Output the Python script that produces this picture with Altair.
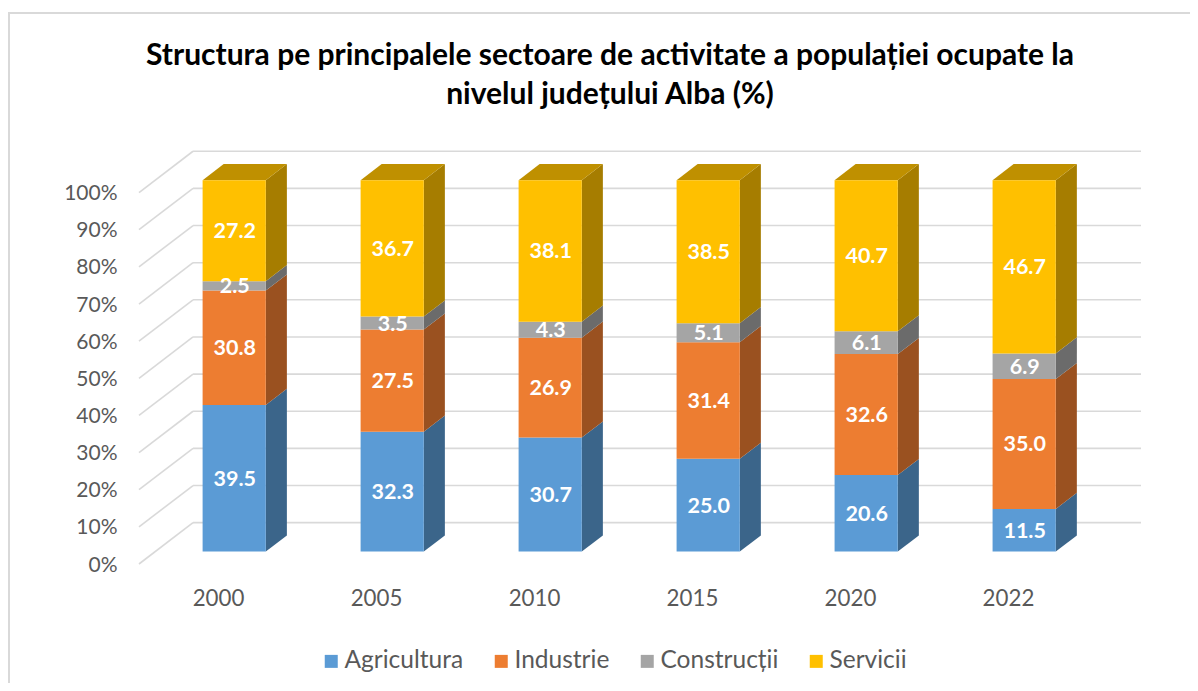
import altair as alt
import pandas as pd

years = ["2000", "2005", "2010", "2015", "2020", "2022"]
sectors = ["Agricultura", "Industrie", "Construcții", "Servicii"]
agricultura = [39.5, 32.3, 30.7, 25.0, 20.6, 11.5]
industrie = [30.8, 27.5, 26.9, 31.4, 32.6, 35.0]
constructii = [2.5, 3.5, 4.3, 5.1, 6.1, 6.9]
servicii = [27.2, 36.7, 38.1, 38.5, 40.7, 46.7]
series = [agricultura, industrie, constructii, servicii]
colors = ["#5B9BD5", "#ED7D31", "#A5A5A5", "#FFC000"]
side_colors = ["#3B658A", "#9A5120", "#6B6B6B", "#A67D00"]
top_color = "#BF9000"
title_lines = ["Structura pe principalele sectoare de activitate a populației ocupate la",
               "nivelul județului Alba (%)"]
pct_ticks = list(range(0, 101, 10))

FONT = "Lato"
TXT = "#595959"
GRID = "#D9D9D9"
W, H = 1002, 413
# oblique projection of the chart box (x in category units, y in percent)
DX, DY = 0.342, 11.13
D0, D1 = 0.30, 0.69
HALF = 0.2
Y_MAX = 111.2

grid_rows = []
for i, p in enumerate(pct_ticks):
    grid_rows.append(dict(g=f"f{i}", x=-0.5, y=p))
    grid_rows.append(dict(g=f"f{i}", x=-0.5 + DX, y=p + DY))
    grid_rows.append(dict(g=f"b{i}", x=-0.5 + DX, y=p + DY))
    grid_rows.append(dict(g=f"b{i}", x=5.5 + DX, y=p + DY))
grid_df = pd.DataFrame(grid_rows)

fronts, sides, tops, labels = [], [], [], []
for c, yr in enumerate(years):
    vals = [s[c] for s in series]
    total = sum(vals)
    base = 0.0
    cx = c + D0 * DX
    y0 = D0 * DY
    back_x = (D1 - D0) * DX
    back_y = (D1 - D0) * DY
    for k, v in enumerate(vals):
        lo = base / total * 100
        hi = (base + v) / total * 100
        base += v
        fronts.append(dict(year=yr, sector=sectors[k], x=cx - HALF, x2=cx + HALF, y=lo + y0, y2=hi + y0))
        labels.append(dict(x=cx, y=(lo + hi) / 2 + y0, t=f"{v:.1f}"))
        key = f"{c}-{k}"
        sides.append(dict(f=key, c=side_colors[k], x=cx + HALF, y=lo + y0, y2=hi + y0))
        sides.append(dict(f=key, c=side_colors[k], x=cx + HALF + back_x, y=lo + y0 + back_y, y2=hi + y0 + back_y))
    t = 100 + y0
    xl, xr = cx - HALF, cx + HALF
    tops.append(dict(f=f"{c}", x=xl, y=t, y2=t))
    tops.append(dict(f=f"{c}", x=xl + back_x, y=t, y2=t + back_y))
    tops.append(dict(f=f"{c}", x=xr, y=t, y2=t + back_y))
    tops.append(dict(f=f"{c}", x=xr + back_x, y=t + back_y, y2=t + back_y))

X = alt.Scale(domain=[-0.5, 5.5 + DX], nice=False, zero=False)
Y = alt.Scale(domain=[0, Y_MAX], nice=False, zero=False)
x_axis = alt.Axis(values=list(range(len(years))),
                  labelExpr="['2000','2005','2010','2015','2020','2022'][datum.value]",
                  domain=False, ticks=False, grid=False, title=None, labelPadding=23,
                  labelFont=FONT, labelFontSize=22.3, labelColor=TXT, labelFlush=False, labelOverlap=False)
y_axis = alt.Axis(values=pct_ticks, labelExpr="datum.value + '%'", domain=False, ticks=False,
                  grid=False, title=None, labelPadding=22, labelFont=FONT, labelFontSize=21,
                  labelColor=TXT, labelOverlap=False, labelOffset=1)

one = pd.DataFrame({"a": [0]})
frame_left = alt.Chart(one).mark_rule(color=GRID, strokeWidth=2).encode(
    x=alt.value(-130), y=alt.value(-139), y2=alt.value(540))
frame_top = alt.Chart(one).mark_rule(color=GRID, strokeWidth=2).encode(
    x=alt.value(-131), x2=alt.value(1059), y=alt.value(-138))

grid = alt.Chart(grid_df).mark_line(color=GRID, strokeWidth=1.6, clip=False).encode(
    x=alt.X("x:Q", scale=X, axis=x_axis),
    y=alt.Y("y:Q", scale=Y, axis=y_axis),
    detail="g:N", order=alt.Order("x:Q"))

side = alt.Chart(pd.DataFrame(sides)).mark_area().encode(
    x=alt.X("x:Q", scale=X), y=alt.Y("y:Q", scale=Y), y2="y2:Q",
    fill=alt.Fill("c:N", scale=None), detail="f:N")

top = alt.Chart(pd.DataFrame(tops)).mark_area(color=top_color).encode(
    x=alt.X("x:Q", scale=X), y=alt.Y("y:Q", scale=Y), y2="y2:Q",
    detail="f:N")

front = alt.Chart(pd.DataFrame(fronts)).mark_rect().encode(
    x=alt.X("x:Q", scale=X), x2="x2:Q", y=alt.Y("y:Q", scale=Y), y2="y2:Q",
    color=alt.Color("sector:N", scale=alt.Scale(domain=sectors, range=colors),
                    legend=alt.Legend(orient="none", legendX=180, legendY=498, direction="horizontal",
                                      columns=4, title=None, symbolType="square", symbolSize=169,
                                      symbolStrokeWidth=0, labelFont=FONT, labelFontSize=24.5,
                                      labelColor=TXT, columnPadding=25, labelOffset=1, labelLimit=200)))

text = alt.Chart(pd.DataFrame(labels)).mark_text(
    color="white", font=FONT, fontWeight="bold", fontSize=21.5, baseline="middle", align="center",
    dx=0.5, dy=1.5).encode(
    x=alt.X("x:Q", scale=X), y=alt.Y("y:Q", scale=Y), text="t:N")

chart = alt.layer(frame_left, frame_top, grid, side, top, front, text).properties(
    width=W, height=H,
    title=alt.TitleParams(text=title_lines, font=FONT, fontSize=30, fontWeight="bold", color="#000000",
                          anchor="middle", dx=-30, offset=-99, lineHeight=39, frame="group"),
    padding={"left": 131, "top": 143, "right": 49, "bottom": 119},
    autosize=alt.AutoSizeParams(type="none"),
).configure_view(stroke=None)

chart.save("out.html", embed_options={"renderer": "svg", "actions": False})
